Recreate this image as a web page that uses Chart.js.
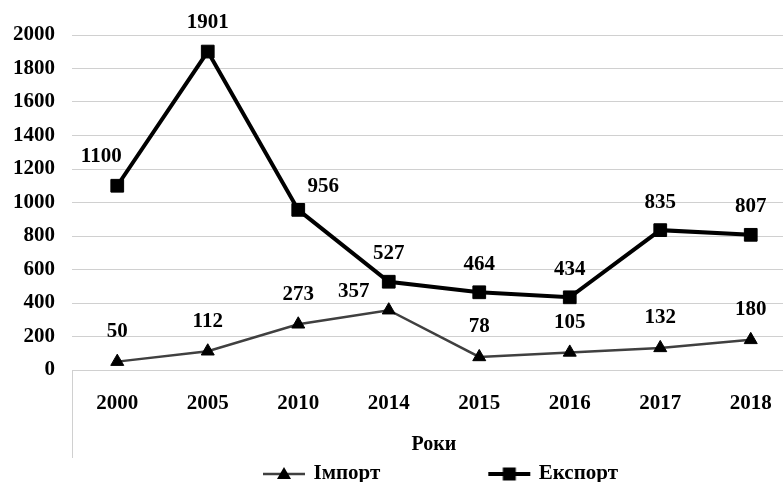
<!DOCTYPE html>
<html>
<head>
<meta charset="utf-8">
<script src="https://cdn.jsdelivr.net/npm/chart.js@4.4.1/dist/chart.umd.min.js"></script>
<style>
  body { margin: 0; background: #ffffff; }
  /* the plot runs a little past the right edge, as in the source picture */
  #wrap { width: 783px; height: 482px; overflow: hidden; }
</style>
</head>
<body>
<div id="wrap"><canvas id="c" width="796" height="482"></canvas></div>
<script>
const years = ['2000', '2005', '2010', '2014', '2015', '2016', '2017', '2018'];
const importValues = [50, 112, 273, 357, 78, 105, 132, 180];
const exportValues = [1100, 1901, 956, 527, 464, 434, 835, 807];
const yTicks = [0, 200, 400, 600, 800, 1000, 1200, 1400, 1600, 1800, 2000];
const seriesNames = ['Імпорт', 'Експорт'];
const axisTitle = 'Роки';

const FONT = "'Liberation Serif', 'Times New Roman', serif";

// label offsets (px) from the point, like the hand-placed labels in the original
const importLabelShift = [[0, -30], [0, -30], [0, -30], [-35, -19], [0, -30], [0, -30], [0, -30], [0, -30]];
const exportLabelShift = [[-16, -29], [0, -29], [25, -23], [0, -28], [0, -28], [0, -28], [0, -28], [0, -28]];

const LEGEND_BOX = 125;

function legendIcon(kind) {
    const cv = document.createElement('canvas');
    cv.width = LEGEND_BOX + 8;
    cv.height = 18;
    const g = cv.getContext('2d');
    const x2 = LEGEND_BOX + 6, x1 = x2 - 42, cx = (x1 + x2) / 2, cy = 9;
    g.strokeStyle = kind === 'import' ? '#404040' : '#000000';
    g.lineWidth = kind === 'import' ? 2.5 : 4;
    g.beginPath();
    g.moveTo(x1, cy);
    g.lineTo(x2, cy);
    g.stroke();
    g.fillStyle = '#000000';
    g.beginPath();
    if (kind === 'import') {
        g.moveTo(cx, cy - 7);
        g.lineTo(cx + 7, cy + 5);
        g.lineTo(cx - 7, cy + 5);
        g.closePath();
    } else {
        g.rect(cx - 6.5, cy - 6.5, 13, 13);
    }
    g.fill();
    return cv;
}
const legendIcons = [legendIcon('import'), legendIcon('export')];

const pointLabels = {
    id: 'pointLabels',
    afterDatasetsDraw(chart) {
        const ctx = chart.ctx;
        const shifts = [importLabelShift, exportLabelShift];
        ctx.save();
        ctx.font = 'bold 21px ' + FONT;
        ctx.fillStyle = '#000000';
        ctx.textAlign = 'center';
        ctx.textBaseline = 'middle';
        chart.data.datasets.forEach((ds, di) => {
            const meta = chart.getDatasetMeta(di);
            meta.data.forEach((pt, i) => {
                const s = shifts[di][i];
                ctx.fillText(String(ds.data[i]), pt.x + s[0], pt.y + s[1]);
            });
        });
        ctx.restore();
    }
};

// the short vertical rule under the category axis (Excel style)
const axisFoot = {
    id: 'axisFoot',
    afterDraw(chart) {
        const ctx = chart.ctx;
        const area = chart.chartArea;
        ctx.save();
        ctx.strokeStyle = '#d0d0d0';
        ctx.lineWidth = 1;
        ctx.beginPath();
        ctx.moveTo(Math.round(area.left) + 0.5, area.bottom);
        ctx.lineTo(Math.round(area.left) + 0.5, area.bottom + 88);
        ctx.stroke();
        ctx.restore();
    }
};

new Chart(document.getElementById('c'), {
    type: 'line',
    data: {
        labels: years,
        datasets: [
            {
                label: seriesNames[0],
                data: importValues,
                borderColor: '#404040',
                borderWidth: 2.5,
                pointStyle: 'triangle',
                pointRadius: 7.5,
                pointBackgroundColor: '#000000',
                pointBorderColor: '#000000',
                pointBorderWidth: 1,
                tension: 0
            },
            {
                label: seriesNames[1],
                data: exportValues,
                borderColor: '#000000',
                borderWidth: 4,
                pointStyle: 'rect',
                pointRadius: 9,
                pointBackgroundColor: '#000000',
                pointBorderColor: '#000000',
                pointBorderWidth: 1,
                tension: 0
            }
        ]
    },
    options: {
        responsive: false,
        animation: false,
        layout: { autoPadding: false, padding: { top: 35, right: 0, bottom: -12.5, left: 0 } },
        scales: {
            x: {
                offset: true,
                grid: { display: false, drawTicks: false },
                border: { display: false },
                ticks: { color: '#000000', padding: 21, font: { family: FONT, size: 21, weight: 'bold' } },
                title: {
                    display: true,
                    text: axisTitle,
                    color: '#000000',
                    padding: { top: -4.2, bottom: -16.5 },
                    font: { family: FONT, size: 20, weight: 'bold' }
                }
            },
            y: {
                min: 0,
                max: 2000,
                afterBuildTicks(scale) {
                    scale.ticks = yTicks.map(v => ({ value: v }));
                },
                afterFit(scale) {
                    scale.width = 72;
                },
                grid: { color: '#d0d0d0', lineWidth: 1, drawTicks: false },
                border: { display: false },
                ticks: {
                    color: '#000000',
                    padding: 17,
                    font: { family: FONT, size: 21, weight: 'bold' },
                    callback: v => String(v)
                }
            }
        },
        plugins: {
            tooltip: { enabled: false },
            legend: {
                position: 'bottom',
                labels: {
                    usePointStyle: true,
                    pointStyleWidth: LEGEND_BOX,
                    padding: 23,
                    color: '#000000',
                    font: { family: FONT, size: 21, weight: 'bold' },
                    generateLabels(chart) {
                        const items = Chart.defaults.plugins.legend.labels.generateLabels(chart);
                        items.forEach((it, i) => { it.pointStyle = legendIcons[i]; });
                        return items;
                    }
                }
            }
        }
    },
    plugins: [pointLabels, axisFoot]
});
</script>
</body>
</html>
